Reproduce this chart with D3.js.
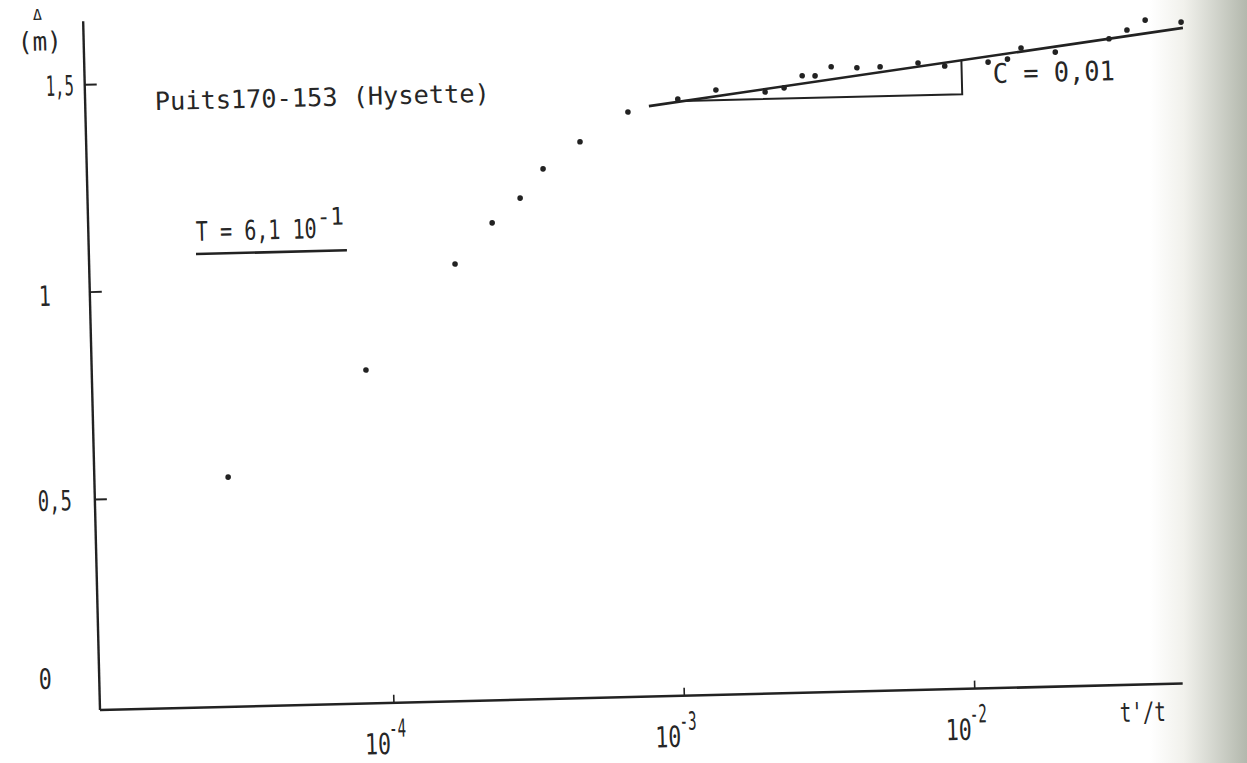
<!DOCTYPE html>
<html><head><meta charset="utf-8">
<script src="https://cdn.jsdelivr.net/npm/d3@7"></script>
<style>
body{margin:0;background:#fff;}
svg{display:block;}
text{font-family:"DejaVu Sans Mono",monospace;fill:#262626;}
</style>
</head><body>
<svg id="c" width="1247" height="763"></svg>
<script>
// ---- data ----
const tRatio = [2.82e-5, 8.58e-5, 1.774e-4, 2.40e-4, 3.01e-4, 3.63e-4, 4.89e-4, 7.19e-4,
  1.07e-3, 1.45e-3, 2.14e-3, 2.49e-3, 2.88e-3, 3.19e-3, 3.63e-3, 4.45e-3, 5.35e-3, 7.23e-3,
  8.93e-3, 1.26e-2, 1.47e-2, 1.64e-2, 2.15e-2, 3.30e-2, 3.81e-2, 4.41e-2, 5.86e-2];
const drawdown = [0.545, 0.795, 1.045, 1.142, 1.200, 1.269, 1.332, 1.401,
  1.429, 1.449, 1.441, 1.450, 1.478, 1.477, 1.498, 1.494, 1.495, 1.502,
  1.493, 1.500, 1.506, 1.532, 1.520, 1.549, 1.569, 1.592, 1.585];
const fitT = [8.5e-4, 5.94e-2];
const fitV = [1.414, 1.571];
const triangleT = [1.12e-3, 1.02e-2];
const yTicks = [0, 0.5, 1, 1.5];
const yTickLabels = ["0", "0,5", "1", "1,5"];
const xTicks = [1e-4, 1e-3, 1e-2];
const xTickExps = ["-4", "-3", "-2"];
const titleText = "Puits170-153 (Hysette)";
const transText = "T = 6,1 10";
const transExp = "-1";
const slopeText = "C = 0,01";

// ---- layout ----
const OX = 100, OY = 710, ANG = -1.4;
const rad = ANG * Math.PI / 180, cs = Math.cos(rad), sn = Math.sin(rad);
// convert a page position to the rotated frame (annotation layout only)
function fr(X, Y) {
  const dx = X - OX, dy = Y - OY;
  return [dx * cs + dy * sn, -dx * sn + dy * cs];
}
const svg = d3.select("#c");
const defs = svg.append("defs");
const grad = defs.append("linearGradient").attr("id", "shade").attr("x1", "0").attr("x2", "1");
grad.append("stop").attr("offset", "0").attr("stop-color", "#ffffff");
grad.append("stop").attr("offset", "0.35").attr("stop-color", "#f1f1ec");
grad.append("stop").attr("offset", "1").attr("stop-color", "#b3b8ad");
svg.append("rect").attr("width", 1247).attr("height", 763).attr("fill", "#fff");
svg.append("rect").attr("x", 1150).attr("width", 97).attr("height", 763).attr("fill", "url(#shade)");

const g = svg.append("g").attr("transform", `translate(${OX},${OY}) rotate(${ANG})`);
const x = d3.scaleLog().domain([1e-5, 1e-2]).range([3, 874.5]);
const y = d3.scaleLinear().domain([0, 1.5]).range([-3.5, -626]);
const ink = "#222";

function txt(parent, px, py, str, size, len) {
  const t = parent.append("text").attr("x", px).attr("y", py).style("font-size", size + "px").text(str);
  if (len) t.attr("textLength", len).attr("lengthAdjust", "spacingAndGlyphs");
  return t;
}
function ptxt(X, Y, str, size, len) {
  const p = fr(X, Y);
  return txt(g, p[0], p[1], str, size, len);
}

// axis lines
g.append("line").attr("x1", 0).attr("y1", 0).attr("x2", 1083).attr("y2", 0)
  .attr("stroke", ink).attr("stroke-width", 2.6);
g.append("line").attr("x1", 0).attr("y1", 0).attr("x2", 0).attr("y2", -689)
  .attr("stroke", ink).attr("stroke-width", 2.4);

// x axis ticks + labels
const xa = g.append("g").call(d3.axisBottom(x).tickValues(xTicks).tickSizeInner(-8).tickSizeOuter(0).tickFormat(() => ""));
xa.select(".domain").remove();
xa.selectAll(".tick text").remove();
xa.selectAll(".tick line").attr("stroke", ink).attr("stroke-width", 1.6);
xa.selectAll(".tick").each(function(d, i) {
  const s = d3.select(this);
  txt(s, -17, 51, "10", 29, 26).attr("fill", "#262626");
  txt(s, 3, 34, xTickExps[i], 25, 17).attr("fill", "#262626");
});
// x label
ptxt(1120, 722, "t'/t", 27, 46);

// y axis ticks + labels
const ya = g.append("g").call(d3.axisLeft(y).tickValues(yTicks.filter(v => v > 0)).tickSizeInner(-12).tickSizeOuter(0).tickFormat(() => ""));
ya.select(".domain").remove();
ya.selectAll(".tick text").remove();
ya.selectAll(".tick line").attr("stroke", ink).attr("stroke-width", 2);
const yLabelPage = [[39, 689, 13], [38, 511, 34], [39, 306, 12], [46, 96, 28]];
yTicks.forEach((v, i) => {
  ptxt(yLabelPage[i][0], yLabelPage[i][1], yTickLabels[i], 28, yLabelPage[i][2]);
});
// y unit
ptxt(33, 20, "\u0394", 15, 9);
ptxt(18, 51, "(m)", 26, 44);

// data points
g.selectAll("circle.pt").data(tRatio.map((t, i) => [t, drawdown[i]])).join("circle")
  .attr("class", "pt").attr("cx", d => x(d[0])).attr("cy", d => y(d[1])).attr("r", 2.8).attr("fill", "#222");

// fitted straight line (semi-log) and slope triangle
const lineAt = t => fitV[0] + (fitV[1] - fitV[0]) * (Math.log10(t) - Math.log10(fitT[0])) / (Math.log10(fitT[1]) - Math.log10(fitT[0]));
g.append("line").attr("x1", x(fitT[0])).attr("y1", y(fitV[0])).attr("x2", x(fitT[1])).attr("y2", y(fitV[1]))
  .attr("stroke", ink).attr("stroke-width", 2.6);
const v0 = lineAt(triangleT[0]), v1 = lineAt(triangleT[1]);
g.append("path").attr("d", `M${x(triangleT[0])},${y(v0)}L${x(triangleT[1])},${y(v0)}L${x(triangleT[1])},${y(v1)}`)
  .attr("fill", "none").attr("stroke", ink).attr("stroke-width", 2);

// annotations
ptxt(155, 110, titleText, 25, 335);
ptxt(196, 241, transText, 27, 121);
ptxt(317, 225, transExp, 24, 27);
const u0 = fr(196, 254), u1 = fr(347, 253);
g.append("line").attr("x1", u0[0]).attr("y1", u0[1]).attr("x2", u1[0]).attr("y2", u0[1])
  .attr("stroke", ink).attr("stroke-width", 2.6);
ptxt(993, 83, slopeText, 27, 122);
</script>
</body></html>
